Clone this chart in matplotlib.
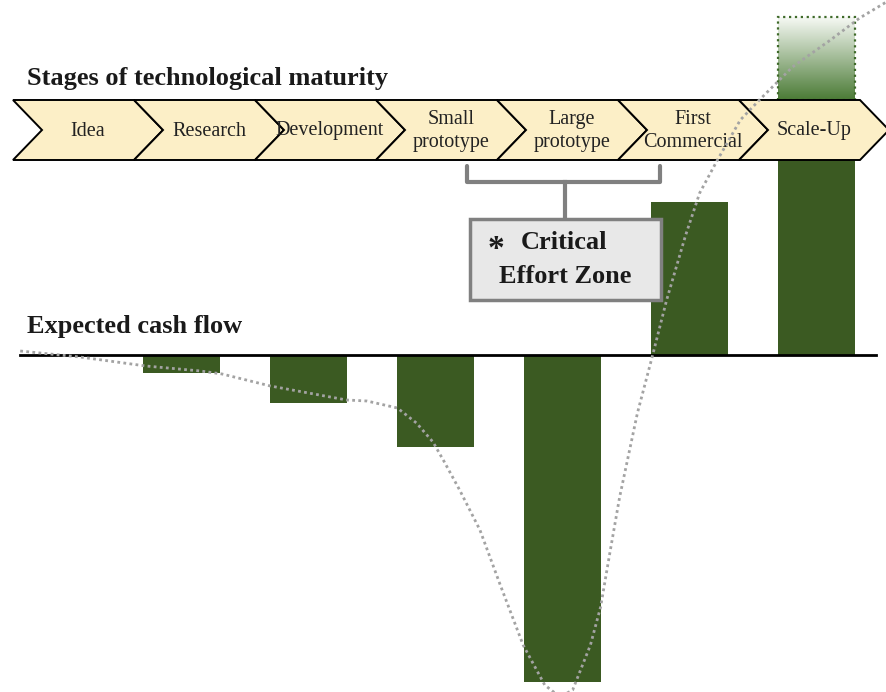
import numpy as np
import matplotlib.pyplot as plt
from matplotlib.patches import Polygon, Rectangle
from matplotlib.colors import LinearSegmentedColormap

# stages shown in the chevron strip
stages = ["Idea", "Research", "Development", "Small\nprototype",
          "Large\nprototype", "First\nCommercial", "Scale-Up"]

# expected cash flow per stage (bars start at the Research stage)
bar_stage = [1, 2, 3, 4, 5, 6]
cash_flow = [-1.8, -4.8, -9.2, -32.7, 15.3, 25.5]
scale_up_upside = 8.3

# cumulative cash flow curve (dotted)
curve_x = [-0.27, 0.20, 0.72, 1.15, 1.32, 1.70, 2.30, 2.46, 2.70, 2.85, 2.98,
           3.07, 3.19, 3.35, 3.51, 3.69, 3.86, 3.98, 4.08, 4.22, 4.30, 4.37,
           4.45, 4.59, 4.71, 4.82, 4.97, 5.08, 5.22, 5.40, 5.55, 5.81, 6.11,
           6.34, 6.55]
curve_y = [0.4, -0.2, -1.1, -1.6, -1.9, -3.1, -4.5, -4.6, -5.3, -6.8, -8.7,
           -10.7, -13.5, -17.5, -23.0, -29.0, -33.0, -34.2, -33.5, -29.0, -25.2,
           -20.0, -14.2, -5.8, 0.0, 5.5, 12.0, 16.2, 19.5, 23.5, 25.5, 28.8,
           31.5, 33.7, 35.3]

GREEN = "#3b5a22"
CREAM = "#fcefc7"
GREY = "#808080"
SERIF = "Liberation Serif"


# layout helpers: one stage = 127 px, one cash unit = 10 px, zero line at 355 px
def sx(px):
    return (px - 54.5) / 127


def sy(py):
    return (355 - py) / 10


fig = plt.figure(figsize=(8.86, 6.92), dpi=100)
ax = fig.add_axes([0, 0, 1, 1])
ax.axis("off")

# bars
ax.bar(bar_stage, cash_flow, width=0.6, color=GREEN, zorder=2)

# gradient "upside" box above the scale-up bar (green at bottom, fading up)
x0 = bar_stage[-1] - 0.3
y0 = cash_flow[-1]
grad = np.linspace(0, 1, 200).reshape(-1, 1)
cmap = LinearSegmentedColormap.from_list("up", ["#4b7b36", "#f6f9f4"])
ax.imshow(grad, cmap=cmap, aspect="auto", origin="lower",
          extent=[x0, x0 + 0.6, y0, y0 + scale_up_upside], zorder=2)
ax.add_patch(Rectangle((x0, y0), 0.6, scale_up_upside, fill=False,
                       ec="#3f6a2a", lw=1.6, ls=":", zorder=2))

# chevrons
for i, label in enumerate(stages):
    L = 13 + 121 * i
    pts = [(L, 100), (L + 121, 100), (L + 150, 130), (L + 121, 160),
           (L, 160), (L + 29, 130)]
    ax.add_patch(Polygon([(sx(a), sy(b)) for a, b in pts], closed=True,
                         fc=CREAM, ec="black", lw=1.4, zorder=3))
    ax.text(sx(L + 75), sy(131), label, ha="center", va="center",
            fontsize=14.5, family=SERIF, color="#222222",
            linespacing=1.3, zorder=4)

# bracket over small / large prototype
ax.plot([sx(467), sx(467), sx(660), sx(660)],
        [sy(166), sy(182), sy(182), sy(166)],
        color=GREY, lw=3, solid_joinstyle="round", solid_capstyle="round", zorder=4)
ax.plot([sx(565), sx(565)], [sy(182), sy(219)], color=GREY, lw=3, zorder=4)

# critical effort zone box
ax.add_patch(Rectangle((sx(470), sy(300)), sx(661) - sx(470), sy(219) - sy(300),
                       fc="#e8e8e8", ec=GREY, lw=2.5, zorder=4))
ax.text(sx(488), sy(250), "*", ha="left", va="center", fontsize=24,
        family=SERIF, weight="bold", color="#1a1a1a", zorder=5)
ax.text(sx(521), sy(243), "Critical", ha="left", va="center", fontsize=19,
        family=SERIF, weight="bold", color="#1a1a1a", zorder=5)
ax.text(sx(565), sy(277), "Effort Zone", ha="center", va="center", fontsize=19,
        family=SERIF, weight="bold", color="#1a1a1a", zorder=5)

# zero line
ax.plot([sx(20), sx(876)], [0, 0], color="black", lw=2, zorder=3)

# dotted curve
ax.plot(curve_x, curve_y, color="#a3a3a3", lw=2, ls=(0, (1, 1.2)), zorder=6)

# titles
ax.text(sx(27), sy(78), "Stages of technological maturity", ha="left",
        va="center", fontsize=19, family=SERIF, weight="bold", color="#1a1a1a")
ax.text(sx(27), sy(327), "Expected cash flow", ha="left", va="center",
        fontsize=19, family=SERIF, weight="bold", color="#1a1a1a")

ax.set_xlim(sx(0), sx(886))
ax.set_ylim(sy(692), sy(0))

fig.savefig("out.png", dpi=100)
